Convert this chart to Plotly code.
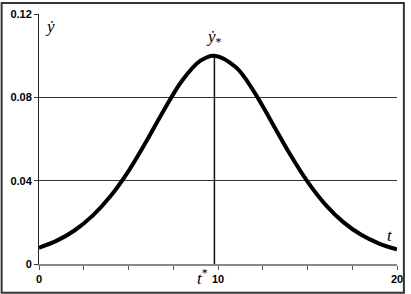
import plotly.graph_objects as go

# values
t_vals = [0, 1, 2, 3, 4, 5, 6, 7, 8, 9, 9.8, 11, 12, 13, 14, 15, 16, 17, 18, 19, 20]
y_vals = [0.0078, 0.0112, 0.0162, 0.0232, 0.0326, 0.0446, 0.0589, 0.0742, 0.0881,
          0.0975, 0.1000, 0.0944, 0.0829, 0.0681, 0.0530, 0.0395, 0.0285, 0.0201,
          0.0140, 0.0098, 0.0070]
peak_t = [9.8, 9.8]
peak_y = [0.0, 0.1]
x_ticks = [0, 10, 20]
y_ticks = [0, 0.04, 0.08, 0.12]

W, H = 411, 294
ML, MR, MT, MB = 39, 8, 12, 30
PW, PH = W - ML - MR, H - MT - MB

fig = go.Figure()
fig.add_trace(go.Scatter(x=peak_t, y=peak_y, mode="lines",
                         line=dict(color="#111111", width=1.5), hoverinfo="skip"))
fig.add_trace(go.Scatter(x=t_vals, y=y_vals, mode="lines",
                         line=dict(color="#000000", width=4, shape="spline", smoothing=1.0)))

serif = "Liberation Serif"
fig.add_annotation(x=0.25, y=0.114, text="<i>ẏ</i>", showarrow=False, xanchor="left",
                   font=dict(family=serif, size=17, color="black"))
fig.add_annotation(x=9.8, y=0.1085, text="<i>ẏ</i><sub>*</sub>", showarrow=False,
                   font=dict(family=serif, size=17, color="black"))
fig.add_annotation(x=19.6, y=0.0135, text="<i>t</i>", showarrow=False,
                   font=dict(family=serif, size=17, color="black"))
fig.add_annotation(x=9.15, yref="paper", y=(264 - 277) / PH, yanchor="middle",
                   text="<i>t</i><sup>*</sup>", showarrow=False,
                   font=dict(family=serif, size=17, color="black"))

fig.add_shape(type="rect", xref="paper", yref="paper",
              x0=(1 - ML) / PW, x1=(W - 1 - ML) / PW,
              y0=(PH + MT - (H - 1)) / PH, y1=(PH + MT - 1) / PH,
              line=dict(color="#333333", width=2), layer="above")

fig.update_layout(
    width=W, height=H, margin=dict(l=ML, r=MR, t=MT, b=MB),
    paper_bgcolor="white", plot_bgcolor="white", showlegend=False,
    font=dict(family="Liberation Sans", size=11, color="black"),
)
fig.update_xaxes(range=[0, 20], tickvals=x_ticks, ticktext=["<b>0</b>", "<b>10</b>", "<b>20</b>"],
                 showgrid=False, zeroline=False, showline=True, linecolor="#888888", linewidth=1.5,
                 ticks="outside", ticklen=4, tickcolor="#555555",
                 minor=dict(dtick=2.5, ticks="outside", ticklen=4, tickcolor="#555555", showgrid=False))
fig.update_yaxes(range=[0, 0.12], tickvals=y_ticks,
                 ticktext=["<b>0</b>", "<b>0.04</b>", "<b>0.08</b>", "<b>0.12</b>"],
                 showgrid=True, gridcolor="#333333", gridwidth=1, zeroline=False,
                 showline=True, linecolor="#222222", linewidth=1,
                 ticks="outside", ticklen=4, tickcolor="#333333")

fig.write_html("out.html", config={"displayModeBar": False},
               post_script="document.body.style.margin='0';")
